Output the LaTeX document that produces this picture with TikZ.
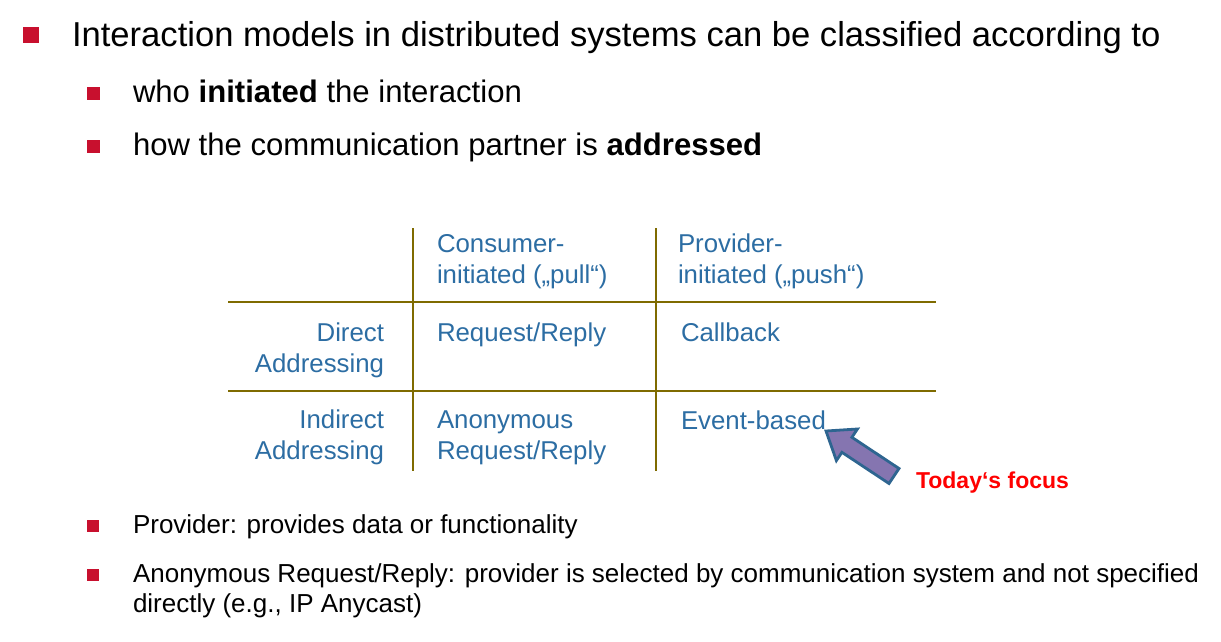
\documentclass[tikz,border=0pt]{standalone}
\usepackage{fontspec}
\setmainfont{Liberation Sans}
\usetikzlibrary{positioning}
\definecolor{bulletred}{HTML}{C8102E}
\definecolor{cellblue}{HTML}{2C6DA3}
\definecolor{gridolive}{HTML}{7F6B00}
\definecolor{arrowfill}{HTML}{8575B0}
\definecolor{arrowline}{HTML}{2E6590}
\tikzset{
  every node/.style={inner sep=0pt, outer sep=0pt},
  sqbullet/.style={fill=bulletred, minimum size=#1},
  toptext/.style={anchor=base west, font=\fontsize{34.6}{40}\selectfont},
  subtext/.style={anchor=base west, font=\fontsize{31.1}{36}\selectfont},
  notetext/.style={anchor=base west, align=left, font=\fontsize{26}{30}\selectfont},
  cell/.style={anchor=base west, align=left, text=cellblue, font=\fontsize{25.8}{31}\selectfont},
  rowhead/.style={anchor=base east, align=right, text=cellblue, font=\fontsize{25.8}{31}\selectfont},
  gridline/.style={draw=gridolive, line width=2.6pt},
  focusarrow/.style={draw=arrowline, fill=arrowfill, line width=2.8pt, line join=miter},
}

\begin{document}
\begin{tikzpicture}[x=1pt, y=-1pt]
  \useasboundingbox (0,0) rectangle (1221,642);

  % bullet list on top
  \node[sqbullet=16pt] (b0) at (31,35) {};
  \node[toptext] (intro) at (72,46.5) {Interaction models in distributed systems can be classified according to};
  \node[sqbullet=13pt] (b1) at (93.5,93.5) {};
  \node[subtext] (who) at (133,102.5) {who \textbf{initiated} the interaction};
  \node[sqbullet=13pt] (b2) at (93.5,146.5) {};
  \node[subtext] (how) at (133,155.5) {how the communication partner is \textbf{addressed}};

  % table grid
  \draw[gridline] (413,228) -- (413,471);
  \draw[gridline] (656,228) -- (656,471);
  \draw[gridline] (228,302) -- (936,302);
  \draw[gridline] (228,391) -- (936,391);

  % table cells (base = last line)
  \node[cell] (pull)     at (437,283.5) {Consumer-\\initiated („pull“)};
  \node[cell] (push)     at (678,283.5) {Provider-\\initiated („push“)};
  \node[rowhead] (direct)   at (384,372) {Direct\\Addressing};
  \node[rowhead] (indirect) at (384,459.5) {Indirect\\Addressing};
  \node[cell] (reqrep)   at (437,341) {Request/Reply};
  \node[cell] (callback) at (681,341) {Callback};
  \node[cell] (anonrr)   at (437,459.5) {Anonymous\\Request/Reply};
  \node[cell] (event)    at (681,429) {Event-based};

  % focus marker
  \draw[focusarrow] (826,431) -- (857.4,429) -- (851.9,437.3) -- (899,468.5)
    -- (889,483.5) -- (841.9,452.3) -- (836.4,460.6) -- cycle;
  \node[anchor=base west, text=red, font=\fontsize{23}{28}\selectfont\bfseries] (focus) at (916,488.5) {Today‘s focus};

  % notes below
  \node[sqbullet=12pt] (b3) at (93,526) {};
  \node[notetext] (provider) at (133,533.5) {Provider: provides data or functionality};
  \node[sqbullet=12pt] (b4) at (93,575) {};
  \node[notetext] (anon) at (133,612.5) {Anonymous Request/Reply: provider is selected by communication system and not specified\\directly (e.g., IP Anycast)};
\end{tikzpicture}
\end{document}
